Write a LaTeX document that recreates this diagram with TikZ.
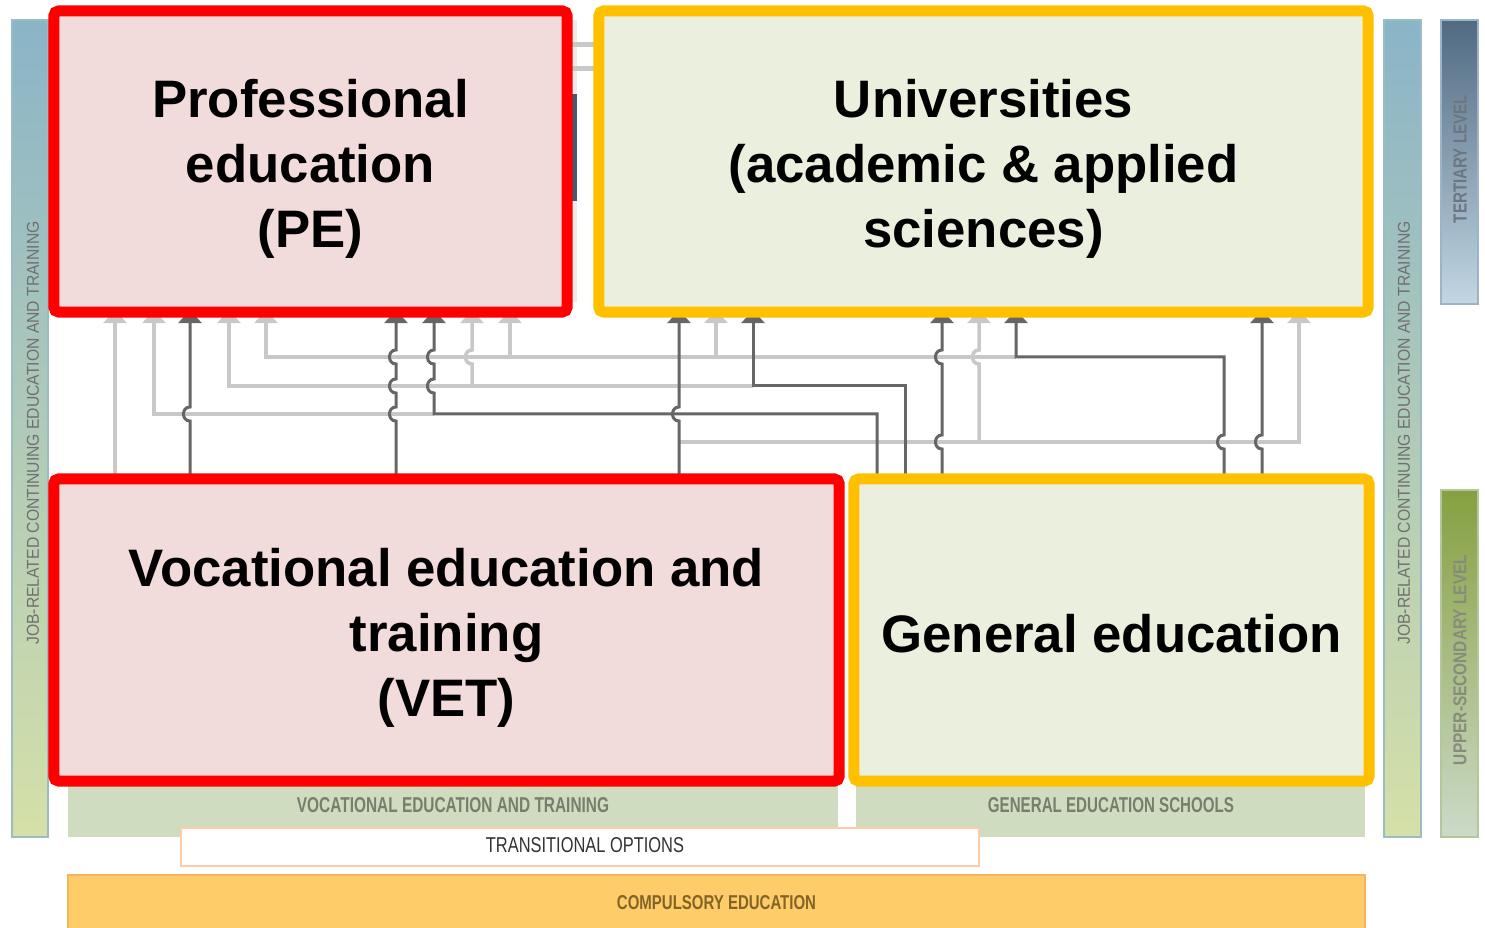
\documentclass[tikz,border=0pt]{standalone}
\usepackage{fontspec}
\usepackage{graphicx}
\setmainfont{Liberation Sans}
\usetikzlibrary{arrows.meta,backgrounds}
\definecolor{pered}{HTML}{FF0000}
\definecolor{pefill}{HTML}{F2DCDB}
\definecolor{uniorange}{HTML}{FFC000}
\definecolor{unifill}{HTML}{EBEFDE}
\definecolor{darkline}{HTML}{666666}
\definecolor{lightline}{HTML}{C8C8C8}
\definecolor{jobtop}{HTML}{8AB4C8}
\definecolor{jobmid}{HTML}{B4CAB4}
\definecolor{jobbot}{HTML}{D5E0A8}
\definecolor{tertop}{HTML}{506A82}
\definecolor{termid}{HTML}{9CB4C6}
\definecolor{terbot}{HTML}{C2D6E3}
\definecolor{tertext}{HTML}{6C7680}
\definecolor{uppertop}{HTML}{86A040}
\definecolor{uppermid}{HTML}{B4C69C}
\definecolor{upperbot}{HTML}{CCDAC8}
\definecolor{uppertext}{HTML}{868C7C}
\definecolor{bandfill}{HTML}{D0DCC0}
\definecolor{bandtext}{HTML}{767F6C}
\definecolor{bartext}{HTML}{707070}
\definecolor{compfill}{HTML}{FFCC6A}
\definecolor{compborder}{HTML}{F5B45A}
\definecolor{comptext}{HTML}{846426}
\definecolor{transborder}{HTML}{FFCCAA}
\tikzset{
	box/.style={draw, line width=0.11cm, rounded corners=0.05cm, inner sep=0pt, outer sep=0pt},
	pebox/.style={box, draw=pered, fill=pefill},
	unibox/.style={box, draw=uniorange, fill=unifill},
	boxtext/.style={inner sep=0pt, align=center, font=\fontsize{15}{18.5}\selectfont\bfseries},
	dk/.style={draw=darkline, line width=0.03cm},
	lt/.style={draw=lightline, line width=0.035cm},
	tip/.style={-{Triangle[width=0.23cm,length=0.13cm]}, shorten >=-0.02cm},
	jump/.style 2 args={insert path={-- (#1,#2+7) .. controls (#1-8.7,#2+7) and (#1-8.7,#2-7) .. (#1,#2-7)}},
	barlabel/.style={inner sep=0pt, outer sep=0pt},
	sidebar/.style={line width=0.012cm}
}
\begin{document}
\begin{tikzpicture}[x=0.01cm, y=-0.01cm]
		\useasboundingbox (0,0) rectangle (1485,928);
		\def\ya{357}
		\def\yb{386}
		\def\yc{414}
		\def\yd{442}
		% the four schools
		\node[pebox, minimum width=5.13cm, minimum height=3.01cm] (pe) at (310.5,161.5) {};
		\node[unibox, minimum width=7.69cm, minimum height=3.01cm] (uni) at (983.5,161.5) {};
		\node[pebox, minimum width=7.85cm, minimum height=3.02cm] (vet) at (446.5,630) {};
		\node[unibox, minimum width=5.15cm, minimum height=3.02cm] (gen) at (1111.5,630) {};
		\node[boxtext] (petext) at (310.5,168.5) {Professional\\education\\(PE)};
		\node[boxtext] (unitext) at (983.5,168.5) {Universities\\(academic \& applied\\sciences)};
		\node[boxtext] (vettext) at (446.5,638) {Vocational education and\\training\\(VET)};
		\node[boxtext] (gentext) at (1111.5,634) {General education};
		\begin{scope}[on background layer]
		% side bars
		\draw[sidebar, draw=jobtop!80!jobbot, top color=jobtop, middle color=jobmid, bottom color=jobbot] (12,20) rectangle (48,837);
		\draw[sidebar, draw=jobtop!80!jobbot, top color=jobtop, middle color=jobmid, bottom color=jobbot] (1384,20) rectangle (1421,837);
		\draw[sidebar, draw=termid, top color=tertop, middle color=termid, bottom color=terbot] (1441,20) rectangle (1478,304);
		\draw[sidebar, draw=uppermid, top color=uppertop, middle color=uppermid, bottom color=upperbot] (1441,490) rectangle (1478,837);
		\node[barlabel, rotate=90, text=bartext] (jobl) at (33,433) {\resizebox{4.23cm}{0.12cm}{JOB-RELATED CONTINUING EDUCATION AND TRAINING}};
		\node[barlabel, rotate=90, text=bartext] (jobr) at (1404,433) {\resizebox{4.23cm}{0.12cm}{JOB-RELATED CONTINUING EDUCATION AND TRAINING}};
		\node[barlabel, rotate=90, text=tertext] (tert) at (1460,159) {\resizebox{1.28cm}{0.13cm}{\bfseries TERTIARY LEVEL}};
		\node[barlabel, rotate=90, text=uppertext] (upper) at (1460,660) {\resizebox{2.1cm}{0.13cm}{\bfseries UPPER-SECONDARY LEVEL}};
		% bits of the plan behind the boxes
		\fill[gray!15] (569,20) rectangle (577,302);
		\fill[tertop!85!black] (569,94) rectangle (577,201);
		\draw[lt, line width=0.05cm] (569,45) -- (597,45);
		\draw[lt, line width=0.05cm] (569,69) -- (597,69);
		% bottom bands
		\fill[bandfill] (68,785) rectangle (838,837);
		\fill[bandfill] (856,785) rectangle (1365,837);
		\node[barlabel, text=bandtext] (vetband) at (453,805.5) {\resizebox{3.12cm}{0.15cm}{\bfseries VOCATIONAL EDUCATION AND TRAINING}};
		\node[barlabel, text=bandtext] (genband) at (1111,805.5) {\resizebox{2.46cm}{0.15cm}{\bfseries GENERAL EDUCATION SCHOOLS}};
		\draw[draw=transborder, fill=white, line width=0.02cm] (181,828) rectangle (979,866);
		\node[barlabel, text=black!80] (trans) at (585,845.5) {\resizebox{1.98cm}{0.15cm}{TRANSITIONAL OPTIONS}};
		\draw[draw=compborder, fill=compfill, line width=0.02cm] (68,875) rectangle (1365,935);
		\node[barlabel, text=comptext] (comp) at (716.5,903) {\resizebox{1.99cm}{0.14cm}{\bfseries COMPULSORY EDUCATION}};
		% light paths
		\draw[lt, tip] (115,0 |- vet.north) -- (115,0 |- pe.south);
		\draw[lt, tip] (434,\yc) -- (154,\yc) -- (154,0 |- pe.south);
		\draw[lt, tip] (753,\yb) -- (229,\yb) -- (229,0 |- pe.south);
		\draw[lt, tip] (1016,\ya) -- (266,\ya) -- (266,0 |- pe.south);
		\draw[lt, tip] (472,\yb) [jump={472}{\ya}] -- (472,0 |- pe.south);
		\draw[lt, tip] (510,\ya) -- (510,0 |- pe.south);
		\draw[lt, tip] (716,\ya) -- (716,0 |- uni.south);
		\draw[lt, tip] (679,\yd) -- (1299,\yd) -- (1299,0 |- uni.south);
		\draw[lt, tip] (979,\yd) [jump={979}{\ya}] -- (979,0 |- uni.south);
		% dark paths
		\draw[dk, tip] (190,0 |- vet.north) [jump={190}{\yc}] -- (190,0 |- pe.south);
		\draw[dk, tip] (396,0 |- vet.north) [jump={396}{\yc}] [jump={396}{\yb}] [jump={396}{\ya}] -- (396,0 |- pe.south);
		\draw[dk, tip] (877,0 |- gen.north) -- (877,\yc) -- (434,\yc) [jump={434}{\yb}] [jump={434}{\ya}] -- (434,0 |- pe.south);
		\draw[dk, tip] (679,0 |- vet.north) [jump={679}{\yc}] -- (679,0 |- uni.south);
		\draw[dk, tip] (905,0 |- gen.north) -- (905,\yb) -- (753,\yb) -- (753,0 |- uni.south);
		\draw[dk, tip] (942,0 |- gen.north) [jump={942}{\yd}] [jump={942}{\ya}] -- (942,0 |- uni.south);
		\draw[dk, tip] (1224,0 |- gen.north) [jump={1224}{\yd}] -- (1224,\ya) -- (1016,\ya) -- (1016,0 |- uni.south);
		\draw[dk, tip] (1262,0 |- gen.north) [jump={1262}{\yd}] -- (1262,0 |- uni.south);
		\end{scope}
\end{tikzpicture}
\end{document}
